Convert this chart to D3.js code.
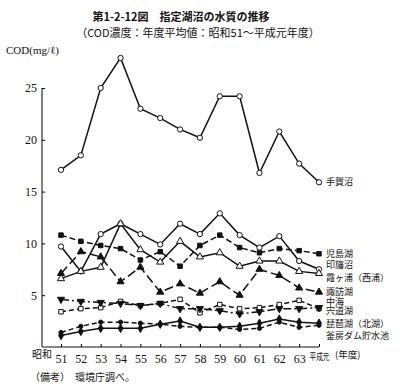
<!DOCTYPE html>
<html>
<head>
<meta charset="utf-8">
<script src="https://cdn.jsdelivr.net/npm/d3@7"></script>
<style>
  body { margin: 0; background: #fff; }
  text { fill: #111; }
  .num { font-family: "Liberation Serif", serif; }
  .jp { font-family: "Noto Sans CJK JP", sans-serif; }
</style>
</head>
<body>
<div id="chart"></div>
<script>
// fiscal years: Showa 51 .. Heisei 1
const years = ["51", "52", "53", "54", "55", "56", "57", "58", "59", "60", "61", "62", "63", "平成元"];
const yTicks = [5, 10, 15, 20, 25];

const lakes = ["手賀沼", "児島湖", "印旛沼", "霞ヶ浦（西浦）", "諏訪湖", "中海", "宍道湖", "琵琶湖（北湖）", "釜房ダム貯水池"];

const teganuma = [17.1, 18.5, 25.0, 27.9, 23.0, 22.1, 21.0, 20.2, 24.2, 24.2, 16.8, 20.8, 17.7, 15.9];
const kojimako = [10.8, 10.2, 9.8, 9.5, 8.4, 9.2, 7.8, 9.8, 10.8, 9.6, 9.1, 9.5, 9.3, 9.0];
const inbanuma = [9.7, 7.3, 10.9, 11.9, 10.9, 9.9, 11.9, 10.9, 12.9, 10.8, 9.6, 10.7, 8.3, 7.5];
const kasumigaura = [6.6, 7.3, 7.7, 11.9, 9.4, 8.2, 10.2, 8.7, 9.1, 7.8, 8.3, 8.3, 7.3, 7.1];
const suwako = [7.1, 9.2, 8.7, 6.3, 7.7, 5.3, 6.1, 5.2, 6.3, 5.0, 7.5, 6.9, 5.7, 5.3];
const nakaumi = [3.4, 3.7, 3.8, 4.4, 4.0, 4.2, 4.6, 3.3, 4.1, 3.7, 3.8, 4.1, 4.5, 3.7];
const shinjiko = [4.6, 4.4, 4.3, 4.2, 4.0, 4.2, 3.7, 3.7, 3.5, 3.2, 3.4, 3.7, 3.7, 3.8];
const biwako = [1.1, 1.5, 1.8, 1.8, 1.8, 2.2, 2.5, 1.9, 1.9, 2.0, 2.3, 2.7, 2.4, 2.3];
const kamafusa = [1.4, 2.0, 2.4, 2.4, 2.3, 2.2, 2.0, 1.9, 1.9, 1.7, 1.8, 2.4, 1.9, 2.1];

// value (on the y scale) where each lake's name is written
const labelValues = [15.9, 9.0, 7.9, 6.65, 5.3, 4.35, 3.45, 2.2, 1.05];

const seriesValues = [teganuma, kojimako, inbanuma, kasumigaura, suwako, nakaumi, shinjiko, biwako, kamafusa];
const dashes = [null, "6,3", null, null, "9,4", "5,3", "8,3,2,3", null, "5,3"];
const markers = ["circleOpen", "squareFill", "circleOpen", "triangleOpen", "triangleFill", "squareOpen", "triDownFill", "diamondFill", "dotFill"];

const width = 400, height = 391;
const svg = d3.select("#chart").append("svg")
  .attr("width", width)
  .attr("height", height);

const x = d3.scalePoint().domain(years).range([61, 319]);
const y = d3.scaleLinear().domain([0, 25]).range([347, 88]);

// titles
svg.append("text").attr("class", "jp")
  .attr("x", 181).attr("y", 21)
  .attr("text-anchor", "middle")
  .style("font-size", "11px").style("font-weight", "bold")
  .text("第1-2-12図　指定湖沼の水質の推移");
svg.append("text").attr("class", "jp")
  .attr("x", 198).attr("y", 37)
  .attr("text-anchor", "middle")
  .style("font-size", "11px")
  .text("（COD濃度：年度平均値：昭和51～平成元年度）");
svg.append("text").attr("class", "num")
  .attr("x", 6).attr("y", 54)
  .style("font-size", "11px")
  .text("COD(mg/ℓ)");

// axes
const yAxis = svg.append("g")
  .attr("transform", "translate(42,0)")
  .call(d3.axisLeft(y).tickValues(yTicks).tickSize(-3).tickPadding(5).tickSizeOuter(0));
yAxis.select(".domain").attr("d", `M0,${y(25)}V${y(0)}`);
yAxis.selectAll("text").attr("class", "num").style("font-size", "12px").attr("fill", "#111");

svg.append("line")
  .attr("x1", 42).attr("x2", x("平成元"))
  .attr("y1", y(0)).attr("y2", y(0))
  .attr("stroke", "#111").attr("stroke-width", 1.2);

const xAxis = svg.append("g")
  .attr("transform", `translate(0,${y(0)})`)
  .call(d3.axisBottom(x).tickSize(-3).tickPadding(7).tickSizeOuter(0));
xAxis.select(".domain").remove();
xAxis.selectAll("text")
  .attr("class", d => d === "平成元" ? "jp" : "num")
  .style("font-size", d => d === "平成元" ? "9px" : "12px")
  .attr("textLength", d => d === "平成元" ? 20 : null)
  .attr("lengthAdjust", "spacingAndGlyphs")
  .attr("fill", "#111");

svg.append("text").attr("class", "jp")
  .attr("x", 32).attr("y", 358)
  .style("font-size", "10px")
  .text("昭和");
svg.append("text").attr("class", "jp")
  .attr("x", 335).attr("y", 358)
  .style("font-size", "9.5px")
  .text("(年度)");

svg.append("text").attr("class", "jp")
  .attr("x", 30).attr("y", 381)
  .style("font-size", "10px")
  .text("（備考）　環境庁調べ。");

// lines
const line = d3.line()
  .x((d, i) => x(years[i]))
  .y(d => y(d));

const sym = {
  circleOpen: { type: d3.symbolCircle, size: 22, fill: "#fff" },
  squareFill: { type: d3.symbolSquare, size: 20, fill: "#111" },
  triangleOpen: { type: d3.symbolTriangle, size: 22, fill: "#fff" },
  triangleFill: { type: d3.symbolTriangle, size: 22, fill: "#111" },
  squareOpen: { type: d3.symbolSquare, size: 20, fill: "#fff" },
  triDownFill: { type: d3.symbolTriangle, size: 22, fill: "#111", rot: 180 },
  diamondFill: { type: d3.symbolDiamond, size: 20, fill: "#111" },
  dotFill: { type: d3.symbolCircle, size: 14, fill: "#111" }
};

seriesValues.forEach((vals, k) => {
  const g = svg.append("g");
  g.append("path")
    .attr("d", line(vals))
    .attr("fill", "none")
    .attr("stroke", "#111")
    .attr("stroke-width", 1.5)
    .attr("stroke-dasharray", dashes[k]);
  const m = sym[markers[k]];
  g.selectAll("path.mk")
    .data(vals)
    .join("path")
    .attr("class", "mk")
    .attr("d", d3.symbol().type(m.type).size(m.size))
    .attr("transform", (d, i) => `translate(${x(years[i])},${y(d)}) rotate(${m.rot || 0})`)
    .attr("fill", m.fill)
    .attr("stroke", "#111")
    .attr("stroke-width", 1);
});

// lake names
svg.selectAll("text.lake")
  .data(lakes)
  .join("text")
  .attr("class", "lake jp")
  .attr("x", 326)
  .attr("y", (d, i) => y(labelValues[i]))
  .attr("dy", "0.35em")
  .style("font-size", "9px")
  .text(d => d);
</script>
</body>
</html>
